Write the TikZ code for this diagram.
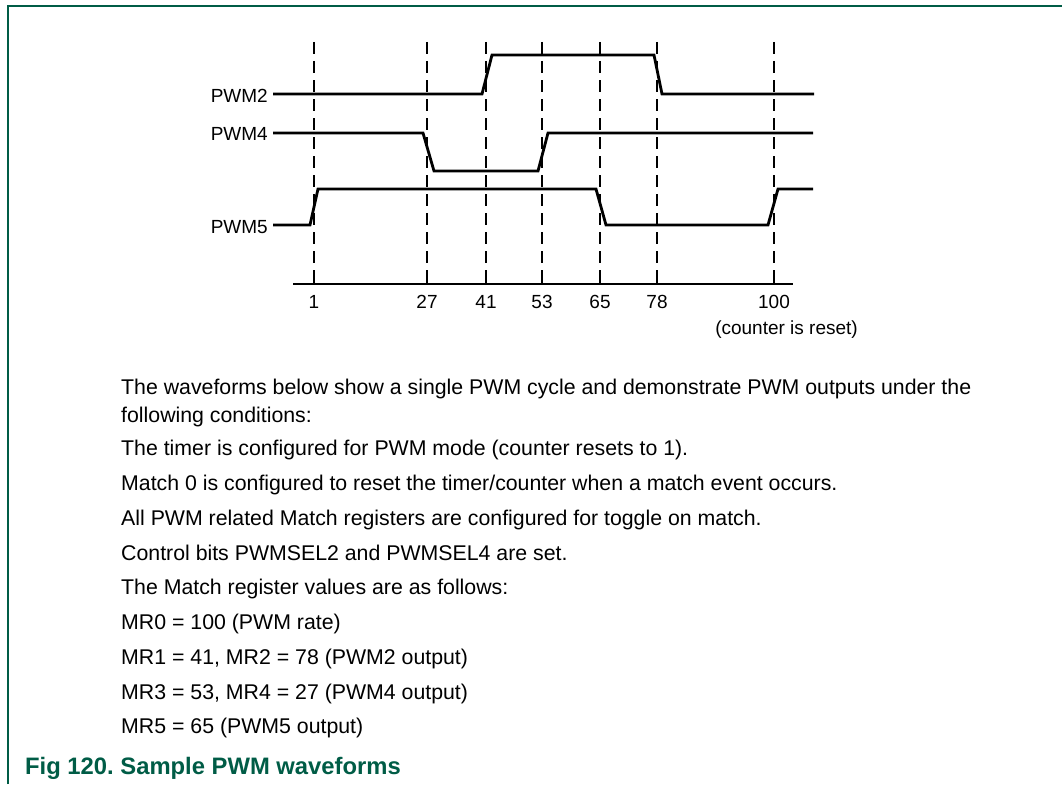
\documentclass[tikz,border=0pt]{standalone}
\usepackage{fontspec}
\setmainfont{Liberation Sans}
\usetikzlibrary{positioning}
\definecolor{figgreen}{RGB}{0,92,70}
\frenchspacing
\tikzstyle{every node}=[font=\fontsize{19pt}{23pt}\selectfont, inner sep=0pt]
\tikzstyle{wave}=[line width=2.8pt, line join=miter]
\tikzstyle{marker}=[line width=2.8pt, dash pattern=on 12pt off 7pt]
\tikzstyle{bodytext}=[font=\fontsize{21.3pt}{25pt}\selectfont, anchor=base west]
\begin{document}
\begin{tikzpicture}[x=1pt, y=-1pt]
	            \useasboundingbox (0,0) rectangle (1062,784);

	            % Rámeček
	            \draw[figgreen, line width=2pt] (8,784) -- (8,6) -- (1062,6);

	            % Svislé čárkované značky
	            \draw[marker] (314,42) -- (314,270);
	            \draw[marker] (427,42) -- (427,270);
	            \draw[marker] (486,42) -- (486,270);
	            \draw[marker] (542,42) -- (542,270);
	            \draw[marker] (600,42) -- (600,270);
	            \draw[marker] (657,42) -- (657,270);
	            \draw[marker] (774,42) -- (774,270);

	            % Časová osa
	            \draw[line width=2.8pt] (293,284) -- (793,284);
	            \draw[line width=2.8pt] (314,270) -- (314,284);
	            \draw[line width=2.8pt] (427,270) -- (427,284);
	            \draw[line width=2.8pt] (486,270) -- (486,284);
	            \draw[line width=2.8pt] (542,270) -- (542,284);
	            \draw[line width=2.8pt] (600,270) -- (600,284);
	            \draw[line width=2.8pt] (657,270) -- (657,284);
	            \draw[line width=2.8pt] (774,270) -- (774,284);

	            \node[anchor=base] (t1) at (314,308) {1};
	            \node[anchor=base] (t27) at (427,308) {27};
	            \node[anchor=base] (t41) at (486,308) {41};
	            \node[anchor=base] (t53) at (542,308) {53};
	            \node[anchor=base] (t65) at (600,308) {65};
	            \node[anchor=base] (t78) at (657,308) {78};
	            \node[anchor=base] (t100) at (774,308) {100};
	            \node[anchor=base east] (reset) at (858,334) {(counter is reset)};

	            % Průběhy
	            \node[anchor=east] (pwm2) at (268,96) {PWM2};
	            \draw[wave] (273,94) -- (482,94) -- (492,55) -- (654,55) -- (662,94) -- (814,94);

	            \node[anchor=east] (pwm4) at (268,134) {PWM4};
	            \draw[wave] (273,133) -- (423,133) -- (434,171) -- (538,171) -- (548,133) -- (813,133);

	            \node[anchor=east] (pwm5) at (268,227) {PWM5};
	            \draw[wave] (273,225) -- (310,225) -- (318,189) -- (596,189) -- (606,225) -- (768,225) -- (778,189) -- (813,189);

	            % Popis
	            \node[bodytext] (p1) at (121,394) {The waveforms below show a single PWM cycle and demonstrate PWM outputs under the};
	            \node[bodytext] (p2) at (121,422) {following conditions:};
	            \node[bodytext] (p3) at (121,455) {The timer is configured for PWM mode (counter resets to 1).};
	            \node[bodytext] (p4) at (121,490) {Match 0 is configured to reset the timer/counter when a match event occurs.};
	            \node[bodytext] (p5) at (121,525) {All PWM related Match registers are configured for toggle on match.};
	            \node[bodytext] (p6) at (121,560) {Control bits PWMSEL2 and PWMSEL4 are set.};
	            \node[bodytext] (p7) at (121,594) {The Match register values are as follows:};
	            \node[bodytext] (p8) at (121,629) {MR0 = 100 (PWM rate)};
	            \node[bodytext] (p9) at (121,664) {MR1 = 41, MR2 = 78 (PWM2 output)};
	            \node[bodytext] (p10) at (121,699) {MR3 = 53, MR4 = 27 (PWM4 output)};
	            \node[bodytext] (p11) at (121,733) {MR5 = 65 (PWM5 output)};

	            \node[anchor=base west, font=\fontsize{23.8pt}{28pt}\selectfont\bfseries, text=figgreen] (caption) at (25,774) {Fig 120. Sample PWM waveforms};
	        \end{tikzpicture}
\end{document}
